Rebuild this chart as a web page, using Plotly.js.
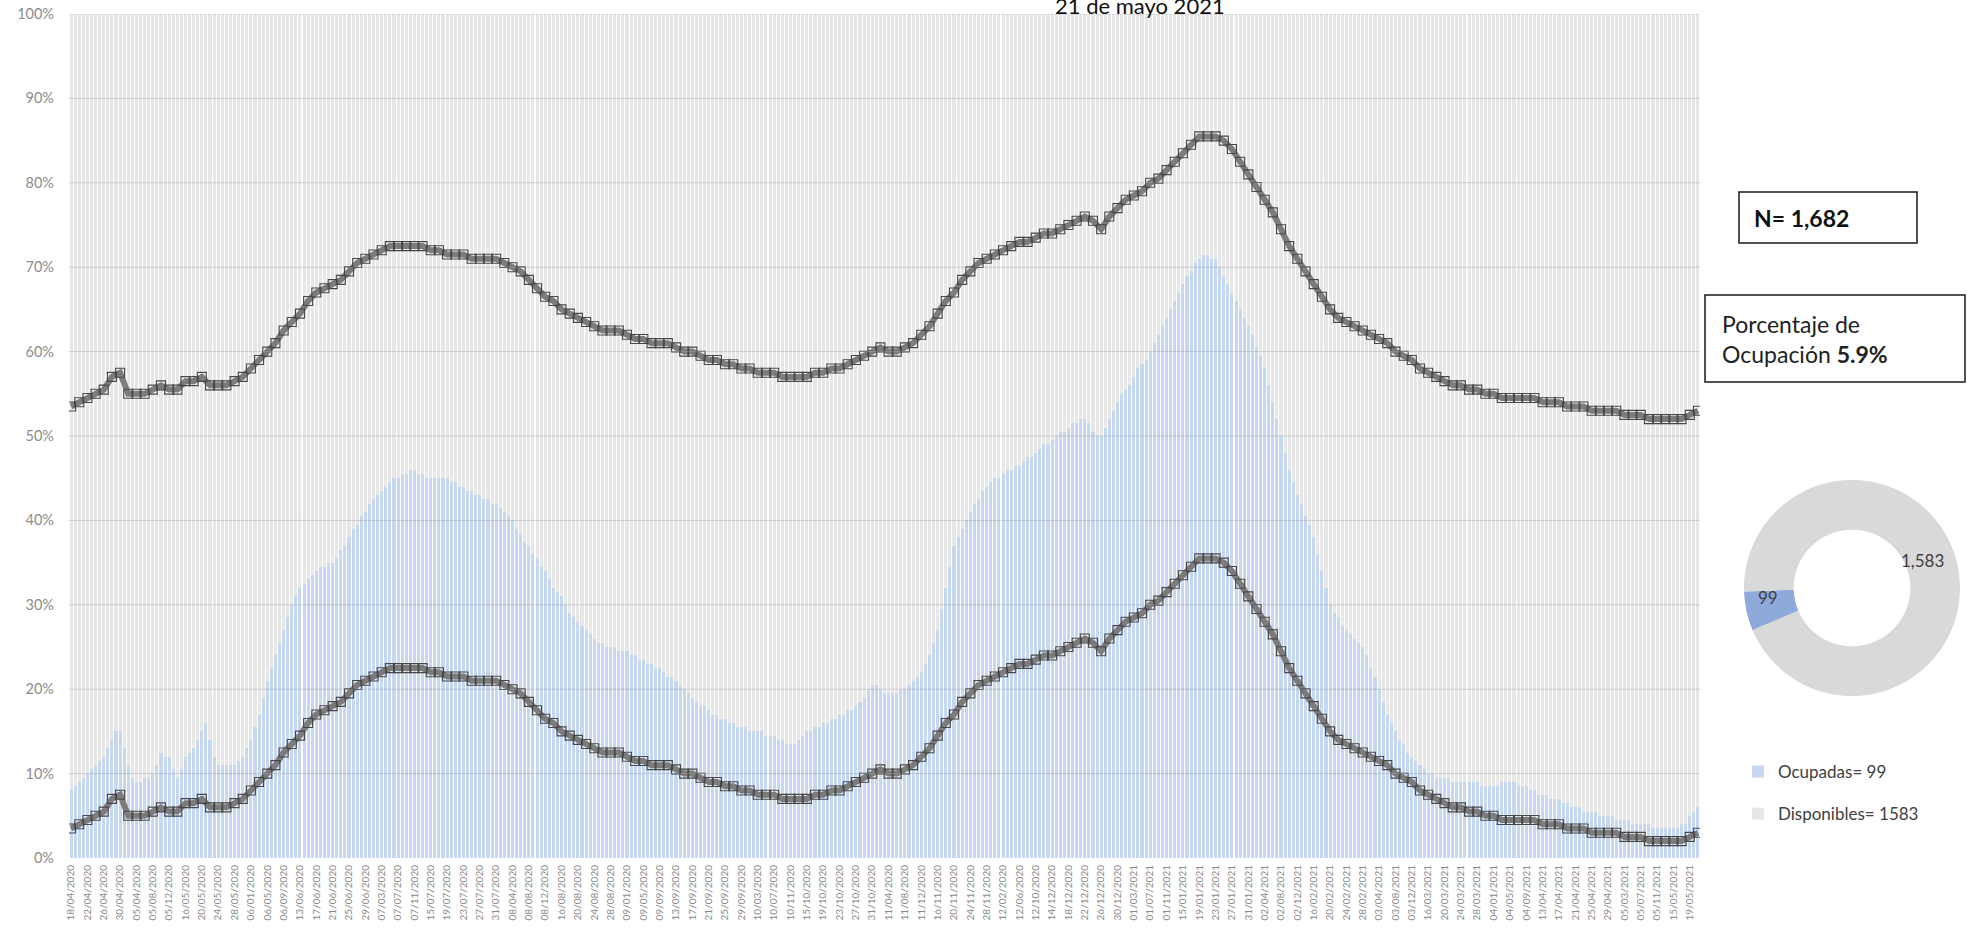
<!DOCTYPE html>
<html><head><meta charset="utf-8">
<script src="https://cdn.plot.ly/plotly-3.0.1.min.js"></script>
<style>html,body{margin:0;padding:0;background:#fff;}#chart{width:1967px;height:930px;}</style>
</head><body><div id="chart"></div>
<script>
// ---- tick labels (every 4 days, as printed in the source) ----
const tickLabels = [
"18/04/2020","22/04/2020","26/04/2020","30/04/2020","05/04/2020","05/08/2020","05/12/2020","16/05/2020","20/05/2020","24/05/2020",
"28/05/2020","06/01/2020","06/05/2020","06/09/2020","13/06/2020","17/06/2020","21/06/2020","25/06/2020","29/06/2020","07/03/2020",
"07/07/2020","07/11/2020","15/07/2020","19/07/2020","23/07/2020","27/07/2020","31/07/2020","08/04/2020","08/08/2020","08/12/2020",
"16/08/2020","20/08/2020","24/08/2020","28/08/2020","09/01/2020","09/05/2020","09/09/2020","13/09/2020","17/09/2020","21/09/2020",
"25/09/2020","29/09/2020","10/03/2020","10/07/2020","10/11/2020","15/10/2020","19/10/2020","23/10/2020","27/10/2020","31/10/2020",
"11/04/2020","11/08/2020","11/12/2020","16/11/2020","20/11/2020","24/11/2020","28/11/2020","12/02/2020","12/06/2020","12/10/2020",
"14/12/2020","18/12/2020","22/12/2020","26/12/2020","30/12/2020","01/03/2021","01/07/2021","01/11/2021","15/01/2021","19/01/2021",
"23/01/2021","27/01/2021","31/01/2021","02/04/2021","02/08/2021","02/12/2021","16/02/2021","20/02/2021","24/02/2021","28/02/2021",
"03/04/2021","03/08/2021","03/12/2021","16/03/2021","20/03/2021","24/03/2021","28/03/2021","04/01/2021","04/05/2021","04/09/2021",
"13/04/2021","17/04/2021","21/04/2021","25/04/2021","29/04/2021","05/03/2021","05/07/2021","05/11/2021","15/05/2021","19/05/2021"
];

// ---- daily occupancy % (blue bars), 18/04/2020 .. 21/05/2021 ----
const occupancyPct = [
8,8.5,9,9.5, 10,10.5,11,11.5, 12,13,14,15, 15,13,11,9.5, 9,9,9.5,9.5,
10,11,12.5,12, 12,10.5,9.5,10.5, 12,12.5,13,14, 15,16,14,12, 11,11,11,11,
11,11.5,12,13, 14,15.5,17,19, 21,22.5,24,25.5, 27,28.5,30,31, 32,32.5,33,33.5,
34,34.5,34.5,35, 35,35.5,36.5,37, 38,39,39.5,40.5, 41,42,42.5,43, 43.5,44,44.5,45,
45,45.5,45.5,46, 46,45.5,45.5,45, 45,45,45,45, 45,44.5,44.5,44, 44,43.5,43.5,43,
43,42.5,42.5,42, 42,41.5,41,40.5, 40,39,38.5,37.5, 37,36,35.5,34.5, 34,33,32,31.5,
31,30,29,28.5, 28,27.5,27,26.5, 26,25.5,25.5,25, 25,25,24.5,24.5, 24.5,24,24,23.5,
23.5,23,23,22.5, 22.5,22,21.5,21.5, 21,20.5,20,19.5, 19,18.5,18,18, 17.5,17,17,16.5,
16.5,16,16,15.5, 15.5,15.5,15,15, 15,15,14.5,14.5, 14.5,14,14,13.5, 13.5,13.5,14,14.5,
15,15,15.5,15.5, 16,16,16.5,16.5, 17,17,17.5,17.5, 18,18.5,19,20, 20.5,20.5,20,19.5,
19.5,19.5,19.5,20, 20,20.5,21,21.5, 22,23,24,25.5, 27,29.5,32,34.5, 37,38,39,40,
41,42,42.5,43.5, 44,44.5,45,45, 45.5,46,46,46.5, 46.5,47,47.5,47.5, 48,48.5,49,49,
49.5,50,50.5,50.5, 51,51.5,51.5,52, 52,51.5,50.5,50, 50,51,52,53, 54,55,55.5,56,
57,58,58.5,59, 60,61,62,63, 64,65,66,67, 68,69,69.5,70.5, 71,71.5,71.5,71,
71,70,69,68, 67,66,65,64, 63,62,60.5,59.5, 58,56,54,52, 50,48,46,44.5,
43,42,40.5,39.5, 38,36,34,32, 30,29,28.5,27.5, 27,26.5,26,25.5, 25,24,22.5,21.5,
20,18.5,17,16, 15,14,13.5,12.5, 12,11.5,11,10.5, 10,10,9.5,9.5, 9.5,9.5,9,9,
9,9,9,9, 9,8.5,8.5,8.5, 8.5,8.5,9,9, 9,9,8.5,8.5, 8.5,8,8,7.5,
7.5,7.5,7,7, 7,6.5,6.5,6, 6,6,5.5,5.5, 5.5,5.5,5,5, 5,5,4.5,4.5,
4.5,4.5,4,4, 4,4,4,3.5, 3.5,3.5,3.5,3.5, 3.5,3.5,4,4, 5,5.5,6
];

// ---- lower and upper labelled series, read every 2 days ----
const lowerBand = [
3.5,4.0,4.5,5.0,5.5,7.0,7.5,5.0,5.0,5.0,
5.5,6.0,5.5,5.5,6.5,6.5,7.0,6.0,6.0,6.0,
6.5,7.0,8.0,9.0,10.0,11.0,12.5,13.5,14.5,16.0,
17.0,17.5,18.0,18.5,19.5,20.5,21.0,21.5,22.0,22.5,
22.5,22.5,22.5,22.5,22.0,22.0,21.5,21.5,21.5,21.0,
21.0,21.0,21.0,20.5,20.0,19.5,18.5,17.5,16.5,16.0,
15.0,14.5,14.0,13.5,13.0,12.5,12.5,12.5,12.0,11.5,
11.5,11.0,11.0,11.0,10.5,10.0,10.0,9.5,9.0,9.0,
8.5,8.5,8.0,8.0,7.5,7.5,7.5,7.0,7.0,7.0,
7.0,7.5,7.5,8.0,8.0,8.5,9.0,9.5,10.0,10.5,
10.0,10.0,10.5,11.0,12.0,13.0,14.5,16.0,17.0,18.5,
19.5,20.5,21.0,21.5,22.0,22.5,23.0,23.0,23.5,24.0,
24.0,24.5,25.0,25.5,26.0,25.5,24.5,26.0,27.0,28.0,
28.5,29.0,30.0,30.5,31.5,32.5,33.5,34.5,35.5,35.5,
35.5,35.0,34.0,32.5,31.0,29.5,28.0,26.5,24.5,22.5,
21.0,19.5,18.0,16.5,15.0,14.0,13.5,13.0,12.5,12.0,
11.5,11.0,10.0,9.5,9.0,8.0,7.5,7.0,6.5,6.0,
6.0,5.5,5.5,5.0,5.0,4.5,4.5,4.5,4.5,4.5,
4.0,4.0,4.0,3.5,3.5,3.5,3.0,3.0,3.0,3.0,
2.5,2.5,2.5,2.0,2.0,2.0,2.0,2.0,2.5,3.0
];
const upperBand = [
53.5,54.0,54.5,55.0,55.5,57.0,57.5,55.0,55.0,55.0,
55.5,56.0,55.5,55.5,56.5,56.5,57.0,56.0,56.0,56.0,
56.5,57.0,58.0,59.0,60.0,61.0,62.5,63.5,64.5,66.0,
67.0,67.5,68.0,68.5,69.5,70.5,71.0,71.5,72.0,72.5,
72.5,72.5,72.5,72.5,72.0,72.0,71.5,71.5,71.5,71.0,
71.0,71.0,71.0,70.5,70.0,69.5,68.5,67.5,66.5,66.0,
65.0,64.5,64.0,63.5,63.0,62.5,62.5,62.5,62.0,61.5,
61.5,61.0,61.0,61.0,60.5,60.0,60.0,59.5,59.0,59.0,
58.5,58.5,58.0,58.0,57.5,57.5,57.5,57.0,57.0,57.0,
57.0,57.5,57.5,58.0,58.0,58.5,59.0,59.5,60.0,60.5,
60.0,60.0,60.5,61.0,62.0,63.0,64.5,66.0,67.0,68.5,
69.5,70.5,71.0,71.5,72.0,72.5,73.0,73.0,73.5,74.0,
74.0,74.5,75.0,75.5,76.0,75.5,74.5,76.0,77.0,78.0,
78.5,79.0,80.0,80.5,81.5,82.5,83.5,84.5,85.5,85.5,
85.5,85.0,84.0,82.5,81.0,79.5,78.0,76.5,74.5,72.5,
71.0,69.5,68.0,66.5,65.0,64.0,63.5,63.0,62.5,62.0,
61.5,61.0,60.0,59.5,59.0,58.0,57.5,57.0,56.5,56.0,
56.0,55.5,55.5,55.0,55.0,54.5,54.5,54.5,54.5,54.5,
54.0,54.0,54.0,53.5,53.5,53.5,53.0,53.0,53.0,53.0,
52.5,52.5,52.5,52.0,52.0,52.0,52.0,52.0,52.5,53.0
];

// ---- donut / summary ----
const donutLabels = ["Ocupadas= 99", "Disponibles= 1583"];
const donutValues = [99, 1583];
const totalText = "N= 1,682";
const occupancyText = "5.9%";
const titleText = "21 de mayo 2021";

// ---------------- build ----------------
const W = 1967, H = 930, ML = 69, MR = 0, MT = 14, MB = 72;
const PW = W - ML - MR, PH = H - MT - MB;
const px = x => (x - ML) / PW;
const py = y => (H - MB - y) / PH;
const FONT = "Lato, 'Open Sans', sans-serif";

const days = occupancyPct.map((_, i) => i);
const blueY = occupancyPct.map(v => v / 100);
const grayY = occupancyPct.map(v => 1 - v / 100);
const bandX = lowerBand.map((_, i) => i * 2);
const tickVals = tickLabels.map((_, k) => k * 4);

const bandUnder = {
  type: "scatter", mode: "lines", x: bandX, showlegend: false, hoverinfo: "skip",
  line: {color: "#7c7c7c", width: 6}
};
const bandOver = {
  type: "scatter", mode: "markers", x: bandX, showlegend: false, hoverinfo: "skip",
  marker: {symbol: "square-open", size: 9, color: "#474747", line: {width: 1.1, color: "#474747"}}
};

// donut geometry
const DCX = 1852, DCY = 588, DR = 108;

const traces = [
  {type: "bar", x: days, y: blueY, name: donutLabels[0], legendgroup: "a",
   marker: {color: "#c6d7f1", line: {width: 0}}},
  {type: "bar", x: days, y: grayY, name: donutLabels[1], legendgroup: "b",
   marker: {color: "#e7e7e7", line: {width: 0}}},
  Object.assign({}, bandUnder, {y: lowerBand.map(v => v / 100)}),
  Object.assign({}, bandOver, {y: lowerBand.map(v => v / 100)}),
  Object.assign({}, bandUnder, {y: upperBand.map(v => v / 100)}),
  Object.assign({}, bandOver, {y: upperBand.map(v => v / 100)}),
  {type: "pie", labels: donutLabels, values: donutValues, hole: 0.54, sort: false,
   direction: "clockwise", rotation: 247, showlegend: false,
   marker: {colors: ["#8eaadb", "#d9d9d9"], line: {width: 0}},
   textinfo: "none",
   domain: {x: [px(DCX - DR), px(DCX + DR)], y: [py(DCY + DR), py(DCY - DR)]}}
];

const shapes = [];
for (let g = 1; g <= 10; g++) {
  shapes.push({type: "line", xref: "x domain", yref: "y", x0: 0, x1: 1, y0: g / 10, y1: g / 10,
    layer: "above", line: {color: "rgba(160,160,160,0.45)", width: 1}});
}
shapes.push({type: "rect", xref: "paper", yref: "paper", x0: px(1739), x1: px(1917), y0: py(243), y1: py(192),
  layer: "above", line: {color: "#1a1a1a", width: 1.5}, fillcolor: "rgba(255,255,255,0)"});
shapes.push({type: "rect", xref: "paper", yref: "paper", x0: px(1705), x1: px(1965), y0: py(382), y1: py(295),
  layer: "above", line: {color: "#1a1a1a", width: 1.5}, fillcolor: "rgba(255,255,255,0)"});

const fmt = v => v.toLocaleString("en-US");
const annotations = [
  {xref: "paper", yref: "paper", x: px(1140), y: py(21), xanchor: "center", yanchor: "bottom",
   text: titleText, showarrow: false, font: {family: FONT, size: 22, color: "#111"}},
  {xref: "paper", yref: "paper", x: px(1752), y: py(218), xanchor: "left", yanchor: "middle",
   text: "<b>" + totalText + "</b>", showarrow: false, font: {family: FONT, size: 23, color: "#111"}},
  {xref: "paper", yref: "paper", x: px(1720), y: py(339), xanchor: "left", yanchor: "middle", align: "left",
   text: "Porcentaje de<br>Ocupación <b>" + occupancyText + "</b>", showarrow: false,
   font: {family: FONT, size: 23, color: "#222"}},
  // donut data labels (values of each slice)
  {xref: "paper", yref: "paper", x: px(DCX - 84), y: py(DCY + 9), xanchor: "center", yanchor: "middle",
   text: fmt(donutValues[0]), showarrow: false, font: {family: FONT, size: 17, color: "#404040"}},
  {xref: "paper", yref: "paper", x: px(DCX + 70), y: py(DCY - 28), xanchor: "center", yanchor: "middle",
   text: fmt(donutValues[1]), showarrow: false, font: {family: FONT, size: 17, color: "#404040"}}
];

const layout = {
  width: W, height: H, margin: {l: ML, r: MR, t: MT, b: MB},
  paper_bgcolor: "#fff", plot_bgcolor: "#fff",
  barmode: "stack", bargap: 0.25,
  font: {family: FONT},
  xaxis: {domain: [0, px(1700)], range: [-0.5, occupancyPct.length - 0.5],
    tickmode: "array", tickvals: tickVals, ticktext: tickLabels, tickangle: -90,
    tickfont: {size: 10, color: "#8a8a8a", family: FONT}, showgrid: false, zeroline: false,
    showline: false, ticks: "", ticklabelstandoff: 4},
  yaxis: {range: [0, 1], tickformat: ".0%", dtick: 0.1, tick0: 0,
    tickfont: {size: 14.5, color: "#8c8c8c", family: FONT}, showgrid: false, zeroline: false,
    showline: false, ticks: "", ticklabelstandoff: 14},
  showlegend: true,
  legend: {x: px(1738), xanchor: "left", y: py(754), yanchor: "top", traceorder: "grouped",
    tracegroupgap: 17, bgcolor: "rgba(0,0,0,0)", font: {size: 17, color: "#404040", family: FONT}},
  shapes: shapes, annotations: annotations
};

Plotly.newPlot("chart", traces, layout, {displayModeBar: false, responsive: false});
</script></body></html>
